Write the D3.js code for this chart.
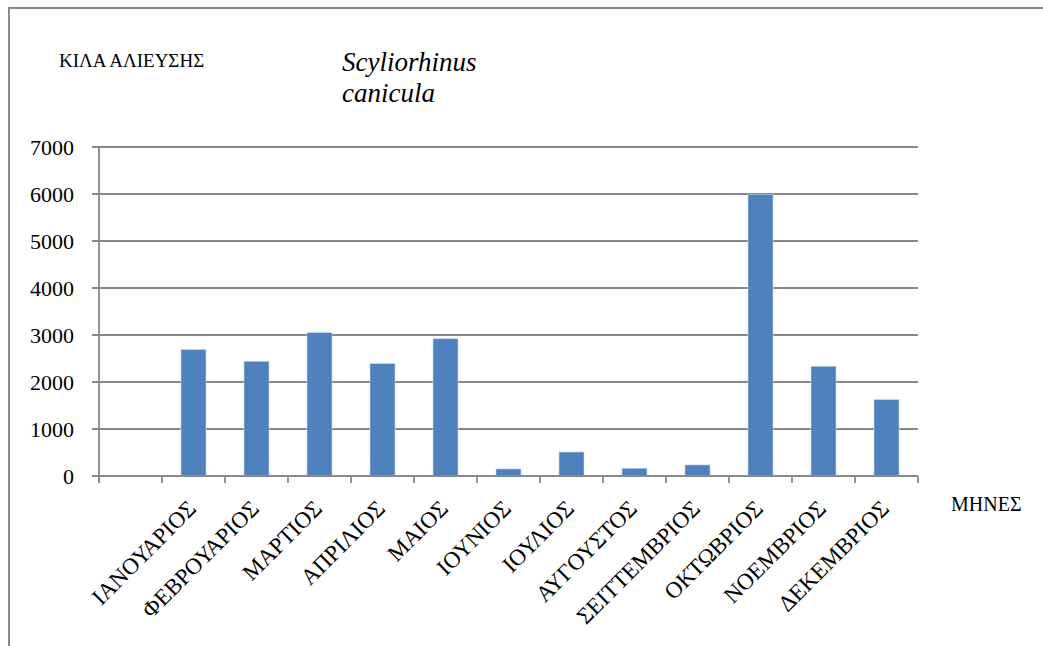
<!DOCTYPE html>
<html><head><meta charset="utf-8">
<script src="https://cdn.jsdelivr.net/npm/d3@7"></script>
<style>body{margin:0;background:#fff;}</style>
</head><body>
<svg id="c" width="1043" height="646"></svg>
<script>
const categories = ["", "ΙΑΝΟΥΑΡΙΟΣ", "ΦΕΒΡΟΥΑΡΙΟΣ", "ΜΑΡΤΙΟΣ", "ΑΠΡΙΛΙΟΣ", "ΜΑΙΟΣ", "ΙΟΥΝΙΟΣ", "ΙΟΥΛΙΟΣ", "ΑΥΓΟΥΣΤΟΣ", "ΣΕΠΤΕΜΒΡΙΟΣ", "ΟΚΤΩΒΡΙΟΣ", "ΝΟΕΜΒΡΙΟΣ", "ΔΕΚΕΜΒΡΙΟΣ"];
const categoryLabels = ["", "ΙΑΝΟΥΑΡΙΟΣ", "ΦΕΒΡΟΥΑΡΙΟΣ", "ΜΑΡΤΙΟΣ", "ΑΠΡΙΛΙΟΣ", "ΜΑΙΟΣ", "ΙΟΥΝΙΟΣ", "ΙΟΥΛΙΟΣ", "ΑΥΓΟΥΣΤΟΣ", "ΣΕΙΤΤΕΜΒΡΙΟΣ", "ΟΚΤΩΒΡΙΟΣ", "ΝΟΕΜΒΡΙΟΣ", "ΔΕΚΕΜΒΡΙΟΣ"];
const values = [null, 2690, 2440, 3050, 2390, 2920, 150, 510, 165, 235, 5990, 2335, 1625];
const yTicks = [0, 1000, 2000, 3000, 4000, 5000, 6000, 7000];
const yTitle = "ΚΙΛΑ ΑΛΙΕΥΣΗΣ";
const xTitle = "ΜΗΝΕΣ";
const titleLines = ["Scyliorhinus", "canicula"];

const FONT = '"Liberation Serif", "Times New Roman", Tinos, serif';
const svg = d3.select("#c").style("font-family", FONT);
const L = 99, R = 918, T = 147, B = 476;
const x = d3.scaleBand().domain(categories.map((c,i)=>i)).range([L, R]).paddingInner(0).paddingOuter(0);
const y = d3.scaleLinear().domain([0, 7000]).range([B, T]);

// frame
svg.append("path").attr("d", "M9,646 V8 H1043").attr("fill","none").attr("stroke","#8a8a8a").attr("stroke-width",2);

// gridlines
svg.append("g").selectAll("line").data(yTicks).join("line")
  .attr("x1", L-7).attr("x2", R).attr("y1", d=>y(d)).attr("y2", d=>y(d))
  .attr("stroke", "#888").attr("stroke-width", 1.8);

// y labels
svg.append("g").selectAll("text").data(yTicks).join("text")
  .style("font-family", FONT)
  .attr("x", 74).attr("y", d=>y(d)+8).attr("text-anchor","end")
  .attr("font-size", 22).text(d=>d);

// bars
const bw = 25;
svg.append("g").selectAll("rect").data(values.map((v,i)=>({v,i})).filter(d=>d.v!=null)).join("rect")
  .attr("x", d=>x(d.i)+x.bandwidth()/2-bw/2).attr("width", bw)
  .attr("y", d=>y(d.v)).attr("height", d=>y(0)-y(d.v))
  .attr("fill", "#4F81BD").attr("stroke","#c5d5ea").attr("stroke-width",0.6);

// axes lines
svg.append("line").attr("x1",L).attr("x2",L).attr("y1",T).attr("y2",B+7).attr("stroke","#888").attr("stroke-width",1.8);
svg.append("line").attr("x1",L).attr("x2",R).attr("y1",B).attr("y2",B).attr("stroke","#888").attr("stroke-width",1.8);
const boundaries = categories.map((c,i)=>x(i)).concat([R]);
svg.append("g").selectAll("line").data(boundaries).join("line")
  .attr("x1",d=>d).attr("x2",d=>d).attr("y1",B).attr("y2",B+7).attr("stroke","#888").attr("stroke-width",1.8);

// x labels
svg.append("g").selectAll("text").data(categoryLabels.map((c,i)=>({c,i})).filter(d=>d.c)).join("text")
  .style("font-family", FONT)
  .attr("transform", d=>`translate(${x(d.i)+x.bandwidth()/2+4},${510}) rotate(-45)`)
  .attr("text-anchor","end").attr("font-size",23).text(d=>d.c);

// titles
svg.append("text").style("font-family", FONT).attr("x",59).attr("y",67).attr("font-size",19).text(yTitle);
svg.append("text").style("font-family", FONT).attr("x",951).attr("y",511).attr("font-size",20).text(xTitle);
svg.append("g").selectAll("text").data(titleLines).join("text")
  .style("font-family", FONT).attr("font-size",27).attr("font-style","italic")
  .attr("x",342).attr("y",(d,i)=>71+i*31).text(d=>d);
</script>
</body></html>
